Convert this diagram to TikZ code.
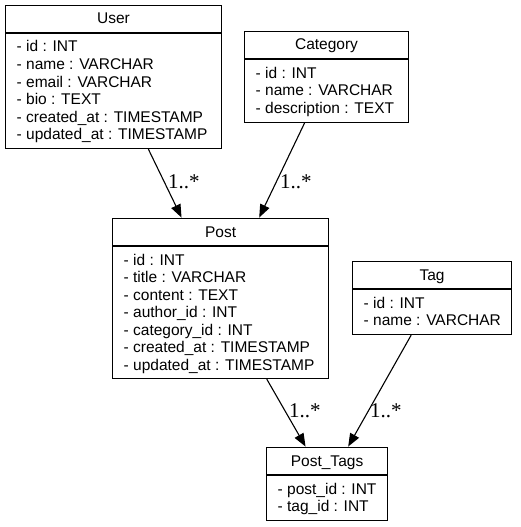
\documentclass[tikz,border=0pt]{standalone}
\usepackage{fontspec}
\setmainfont{Liberation Sans}
\newfontfamily\lblfont{Liberation Serif}
\usetikzlibrary{arrows.meta}
\tikzset{
  classbox/.style={draw, rectangle, anchor=north west, inner sep=0pt, line width=1.1pt},
  sepline/.style={line width=1.1pt},
  titletext/.style={anchor=base, inner sep=0pt, font=\fontsize{15.5}{17.5}\selectfont},
  attrtext/.style={anchor=base west, inner sep=0pt, font=\fontsize{15.5}{17.5}\selectfont},
  multlabel/.style={anchor=base west, inner sep=0pt, font=\lblfont\fontsize{21}{24}\selectfont},
  assoc/.style={line width=1.1pt, -{Triangle[length=13pt,width=10pt]}, shorten >=0.5pt},
}
\newcommand\umlclass[7]{%
  \node[classbox, minimum width=#4pt, minimum height=#5pt] (#1) at (#2,#3) {};
  \draw[sepline] ([yshift=-28pt]#1.north west) -- ([yshift=-28pt]#1.north east);
  \node[titletext] (#1-title) at ([yshift=-19pt]#1.north) {#6};
  \foreach \a [count=\i] in {#7} {
    \node[attrtext] (#1-attr\i) at ([xshift=11.5pt,yshift={-47pt-(\i-1)*17.5pt}]#1.north west) {\a};
  }
}
\begin{document}
\begin{tikzpicture}[x=1pt,y=-1pt]
\useasboundingbox (0,0) rectangle (520,527);
\umlclass{user}{5}{5}{216}{143}{User}{- id : INT,- name : VARCHAR,- email : VARCHAR,- bio : TEXT,- created\_at : TIMESTAMP,- updated\_at : TIMESTAMP}
\umlclass{category}{244}{31}{164}{91}{Category}{- id : INT,- name : VARCHAR,- description : TEXT}
\umlclass{post}{112}{218}{216}{160}{Post}{- id : INT,- title : VARCHAR,- content : TEXT,- author\_id : INT,- category\_id : INT,- created\_at : TIMESTAMP,- updated\_at : TIMESTAMP}
\umlclass{tag}{352}{261}{159}{73}{Tag}{- id : INT,- name : VARCHAR}
\umlclass{posttags}{266}{447}{121}{73}{Post\_Tags}{- post\_id : INT,- tag\_id : INT}

\draw[assoc] (user) -- (post);
\draw[assoc] (category) -- (post);
\draw[assoc] (post) -- (posttags);
\draw[assoc] (tag) -- (posttags);

\node[multlabel] (l1) at (168,188) {1..*};
\node[multlabel] (l2) at (280,188) {1..*};
\node[multlabel] (l3) at (289,417) {1..*};
\node[multlabel] (l4) at (370,417) {1..*};
\end{tikzpicture}
\end{document}
